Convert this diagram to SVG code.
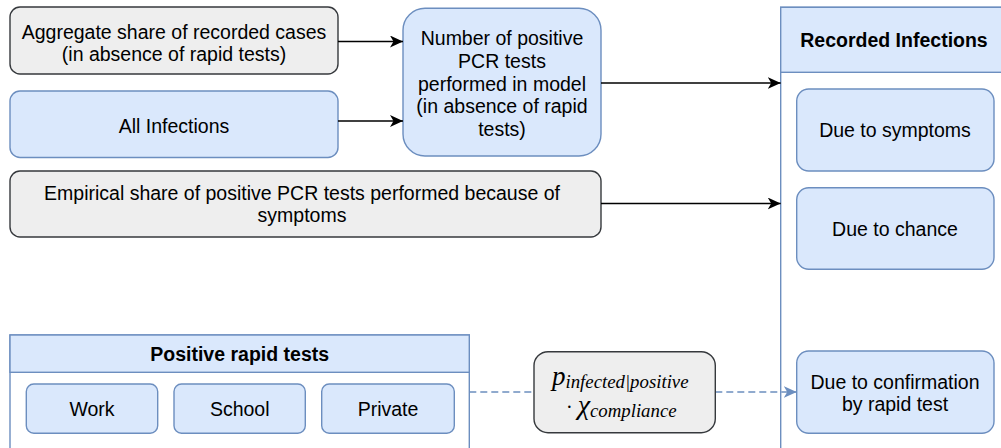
<svg xmlns="http://www.w3.org/2000/svg" width="1001" height="448" viewBox="0 0 1001 448">
<defs>
<style>
.t{font-family:"Liberation Sans",Arial,sans-serif;font-size:19.5px;fill:#000;text-anchor:middle}
.b{font-weight:bold}
.gray{fill:#eeeeee;stroke:#36393d;stroke-width:1.4}
.blue{fill:#dae8fc;stroke:#6c8ebf;stroke-width:1.4}
.white{fill:#ffffff;stroke:#6c8ebf;stroke-width:1.4}
.edge{fill:none;stroke:#000;stroke-width:1.4}
.dash{fill:none;stroke:#6c8ebf;stroke-width:1.4;stroke-dasharray:7 4}
.m{font-family:"Liberation Serif","Times New Roman",serif;font-style:italic;fill:#000}
</style>
<marker id="ah" markerUnits="userSpaceOnUse" markerWidth="14" markerHeight="12" refX="13" refY="6" orient="auto">
<path d="M0,0 L13,6 L0,12 L3.5,6 Z" fill="#000"/>
</marker>
<marker id="ahb" markerUnits="userSpaceOnUse" markerWidth="14" markerHeight="12" refX="13" refY="6" orient="auto">
<path d="M0,0 L13,6 L0,12 L3.5,6 Z" fill="#6c8ebf"/>
</marker>
</defs>

<g id="recorded-infections">
<rect class="white" x="780.7" y="7.3" width="226" height="460"/>
<rect class="blue" x="780.7" y="7.3" width="226" height="65"/>
<text class="t b" x="894" y="47">Recorded Infections</text>
</g>
<g id="due-symptoms">
<rect class="blue" x="796.7" y="89" width="197.3" height="82" rx="12"/>
<text class="t" x="895" y="137">Due to symptoms</text>
</g>
<g id="due-chance">
<rect class="blue" x="796.7" y="187.7" width="197.3" height="81.6" rx="12"/>
<text class="t" x="895" y="235.5">Due to chance</text>
</g>
<g id="due-confirmation">
<rect class="blue" x="796.7" y="351" width="197.3" height="82.3" rx="12"/>
<text class="t" x="895" y="388.5">Due to confirmation</text>
<text class="t" x="895" y="411">by rapid test</text>
</g>

<g id="aggregate-share">
<rect class="gray" x="10" y="7" width="328" height="67" rx="10"/>
<text class="t" x="174" y="38.5">Aggregate share of recorded cases</text>
<text class="t" x="174" y="61">(in absence of rapid tests)</text>
</g>
<g id="all-infections">
<rect class="blue" x="10" y="91" width="328" height="66.5" rx="10"/>
<text class="t" x="174" y="133.3">All Infections</text>
</g>
<g id="number-positive-pcr">
<rect class="blue" x="403" y="8.3" width="198" height="147.7" rx="22"/>
<text class="t" x="502" y="45">Number of positive</text>
<text class="t" x="502" y="67.8">PCR tests</text>
<text class="t" x="502" y="90.6">performed in model</text>
<text class="t" x="502" y="113.4">(in absence of rapid</text>
<text class="t" x="502" y="136.2">tests)</text>
</g>
<g id="empirical-share">
<rect class="gray" x="10" y="171" width="591" height="66" rx="10"/>
<text class="t" x="302" y="199.5">Empirical share of positive PCR tests performed because of</text>
<text class="t" x="302" y="222.3">symptoms</text>
</g>

<g id="positive-rapid-tests">
<rect class="white" x="10" y="335" width="459.3" height="130"/>
<rect class="blue" x="10" y="335" width="459.3" height="37.3"/>
<text class="t b" x="239.7" y="360.5">Positive rapid tests</text>
</g>
<g id="work">
<rect class="blue" x="26.3" y="384" width="131.4" height="49.3" rx="7.5"/>
<text class="t" x="92" y="415.5">Work</text>
</g>
<g id="school">
<rect class="blue" x="174" y="384" width="131.3" height="49.3" rx="7.5"/>
<text class="t" x="239.7" y="415.5">School</text>
</g>
<g id="private">
<rect class="blue" x="321.7" y="384" width="132.6" height="49.3" rx="7.5"/>
<text class="t" x="388" y="415.5">Private</text>
</g>

<g id="connectors">
<path class="edge" d="M338,41.5 L403,41.5" marker-end="url(#ah)"/>
<path class="edge" d="M338,121 L403,121" marker-end="url(#ah)"/>
<path class="edge" d="M601,83 L780.7,83" marker-end="url(#ah)"/>
<path class="edge" d="M601,203.5 L780.7,203.5" marker-end="url(#ah)"/>
<path class="dash" d="M469.3,392 L534,392"/>
<path class="dash" d="M715.3,392 L796.7,392" marker-end="url(#ahb)"/>
</g>

<g id="formula">
<rect class="gray" x="534" y="351.7" width="181.3" height="81" rx="14"/>
<text class="m"><tspan x="552" y="385" font-size="27">p</tspan><tspan y="388" font-size="18.8">infected|positive</tspan><tspan x="566" y="414" font-size="20" font-style="normal">·</tspan><tspan dx="5" y="414" font-size="28">χ</tspan><tspan y="417" font-size="18.8">compliance</tspan></text>
</g>
</svg>
